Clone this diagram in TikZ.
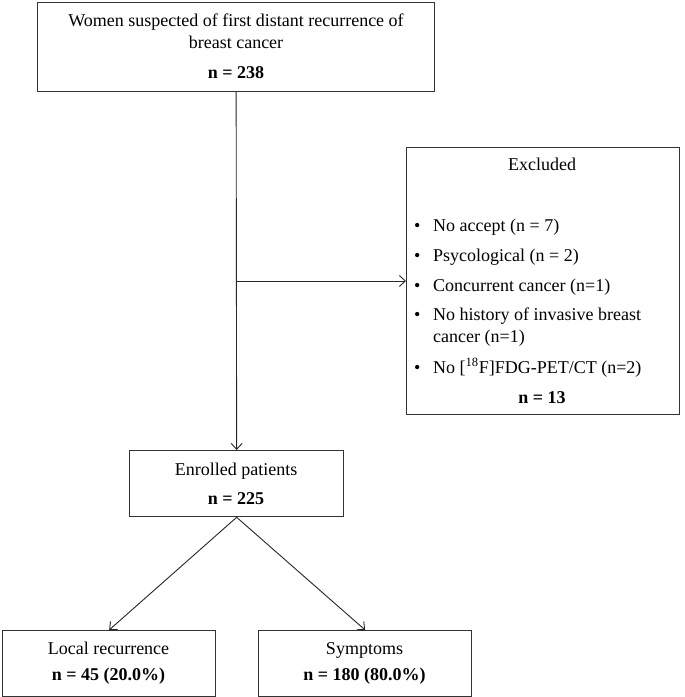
\documentclass[tikz,border=0pt]{standalone}
\usepackage{fontspec}
\setmainfont{Liberation Serif}
\usetikzlibrary{arrows.meta}
\begin{document}
\begin{tikzpicture}[x=1pt,y=-1pt,
  box/.style={draw=black!80,line width=1.3pt,rectangle,inner sep=0pt,anchor=north west},
  txt/.style={anchor=base,inner sep=0pt,font=\fontsize{18}{22}\selectfont},
  btxt/.style={txt,font=\fontsize{18}{22}\selectfont\bfseries},
  ltxt/.style={anchor=base west,inner sep=0pt,font=\fontsize{18}{22}\selectfont},
  conn/.style={draw=black!85,line width=0.9pt,-{Straight Barb[length=6pt,width=11pt]}}]
\useasboundingbox (0,0) rectangle (685,697);
% boxes
\node[box,minimum width=397pt,minimum height=89pt] (top) at (37,1.5) {};
\node[box,minimum width=273pt,minimum height=267pt] (excl) at (406,147) {};
\node[box,minimum width=214pt,minimum height=66pt] (enr) at (129,450) {};
\node[box,minimum width=213pt,minimum height=66pt] (loc) at (2,630) {};
\node[box,minimum width=213pt,minimum height=66pt] (sym) at (258,630) {};
% texts
\node[txt] (t1) at (236,26) {Women suspected of first distant recurrence of};
\node[txt] (t2) at (236,48) {breast cancer};
\node[btxt] (t3) at (236,78) {n = 238};
\node[txt] (e0) at (542,170) {Excluded};
\foreach \y/\t [count=\i] in {231/{No accept (n = 7)},261/{Psycological (n = 2)},291/{Concurrent cancer (n=1)},320/{No history of invasive breast},373/{No [\textsuperscript{18}F]FDG-PET/CT (n=2)}}{
  \node[ltxt] (eb\i) at (414,\y) {\textbullet};
  \node[ltxt] (e\i) at (433,\y) {\t};
}
\node[ltxt] (e4b) at (433,342) {cancer (n=1)};
\node[btxt] (en) at (542,403) {n = 13};
\node[txt] (r1) at (236,475) {Enrolled patients};
\node[btxt] (r2) at (236,504) {n = 225};
\node[txt] (l1) at (108.5,654) {Local recurrence};
\node[btxt] (l2) at (108.5,680) {n = 45 (20.0\%)};
\node[txt] (s1) at (364.5,654) {Symptoms};
\node[btxt] (s2) at (364.5,680) {n = 180 (80.0\%)};
% connectors
\coordinate (split) at (236,281);
\draw[conn] (top.south) -- (enr.north);
\draw[conn] (split) -- (excl.west |- split);
\draw[conn] (enr.south) -- (loc.north);
\draw[conn] (enr.south) -- (sym.north);
\end{tikzpicture}
\end{document}
